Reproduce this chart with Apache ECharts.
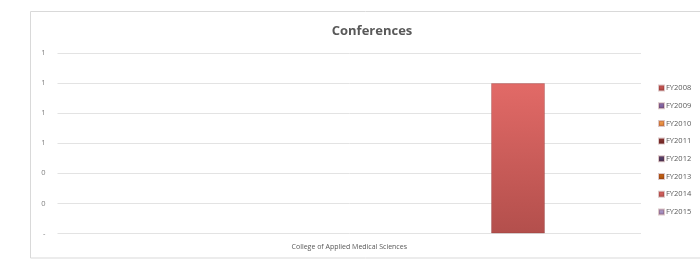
<!DOCTYPE html>
<html>
<head>
<meta charset="utf-8">
<style>
  html, body { margin: 0; padding: 0; background: #fff; }
  #chart { width: 700px; height: 260px; }
</style>
<script src="https://cdn.jsdelivr.net/npm/echarts@6/dist/echarts.min.js"></script>
</head>
<body>
<div id="chart"></div>
<script>
const categories = ["College of Applied Medical Sciences"]
const seriesNames = ["FY2008", "FY2009", "FY2010", "FY2011", "FY2012", "FY2013", "FY2014", "FY2015"]
const fy2008 = [null]
const fy2009 = [null]
const fy2010 = [null]
const fy2011 = [null]
const fy2012 = [null]
const fy2013 = [null]
const fy2014 = [1]
const fy2015 = [null]
const seriesValues = [fy2008, fy2009, fy2010, fy2011, fy2012, fy2013, fy2014, fy2015]

// top / bottom colours of each series' gradient
const seriesColors = [
  ["#d0605d", "#a8403d"],
  ["#9379b5", "#6a5090"],
  ["#f8a65c", "#d57a2a"],
  ["#8e3b38", "#66201e"],
  ["#5f4b78", "#3e2e52"],
  ["#cf6a18", "#a04c05"],
  ["#e26a67", "#b34f4c"],
  ["#b7a5cf", "#8f7aaf"]
]

const grad = c => new echarts.graphic.LinearGradient(0, 0, 0, 1, [
  { offset: 0, color: c[0] },
  { offset: 1, color: c[1] }
])

const chart = echarts.init(document.getElementById("chart"))

chart.setOption({
  animation: false,
  textStyle: { fontFamily: "Open Sans" },
  graphic: [
    {
      type: "rect",
      shape: { x: 30.5, y: 11.5, width: 670, height: 246.5 },
      style: { fill: "none", stroke: "#d9d9d9", lineWidth: 1 },
      silent: true
    }
  ],
  title: {
    text: "Conferences",
    left: 367,
    top: 20,
    textAlign: "center",
    textStyle: { color: "#595959", fontSize: 13, fontWeight: "bold", fontFamily: "Open Sans" }
  },
  legend: {
    orient: "vertical",
    left: 653,
    top: 78,
    itemWidth: 5,
    itemHeight: 5,
    itemGap: 7.7,
    icon: "rect",
    textStyle: { color: "#595959", fontSize: 7.5, lineHeight: 10, padding: [0, 0, 0, -3] },
    data: seriesNames
  },
  grid: { left: 57.5, right: 59, top: 53, bottom: 26.5 },
  xAxis: {
    type: "category",
    data: categories,
    axisLine: { show: false },
    axisTick: { show: false },
    axisLabel: { color: "#595959", fontSize: 7, margin: 10 }
  },
  yAxis: {
    type: "value",
    min: 0,
    max: 1.2,
    interval: 0.2,
    axisLine: { show: false },
    axisTick: { show: false },
    splitLine: { lineStyle: { color: "#e3e3e3", width: 1 } },
    axisLabel: {
      color: "#7f7f7f",
      fontSize: 7.5,
      margin: 12,
      formatter: v => (v === 0 ? "-" : String(Math.round(v)))
    }
  },
  series: seriesNames.map((name, i) => ({
    name: name,
    type: "bar",
    data: seriesValues[i],
    barWidth: 54,
    barGap: "25%",
    itemStyle: {
      color: grad(seriesColors[i]),
      borderColor: "rgba(120,40,40,0.25)",
      borderWidth: 1
    }
  }))
})
</script>
</body>
</html>
